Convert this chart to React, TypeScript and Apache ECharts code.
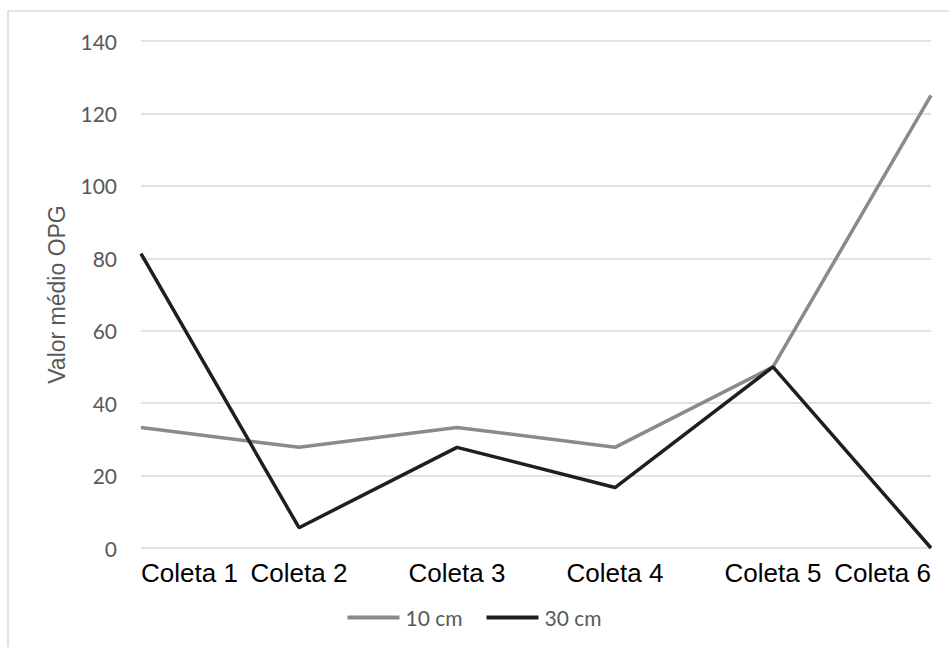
import React, { useEffect, useRef } from "react";
import * as echarts from "echarts";

const categories = ["Coleta 1", "Coleta 2", "Coleta 3", "Coleta 4", "Coleta 5", "Coleta 6"];
const series10cm = [33.3, 27.8, 33.3, 27.8, 50, 125];
const series30cm = [81.3, 5.6, 27.8, 16.7, 50, 0];
const yTicks = { min: 0, max: 140, interval: 20 };

export default function App() {
  const ref = useRef<HTMLDivElement>(null);
  useEffect(() => {
    document.body.style.margin = "0";
    if (!ref.current) return;
    const chart = echarts.init(ref.current, null, { renderer: "svg" });
    chart.setOption({
      animation: false,
      backgroundColor: "#ffffff",
      graphic: [
        {
          type: "rect",
          shape: { x: 8, y: 11, width: 1000, height: 1000 },
          style: { fill: "none", stroke: "#d9d9d9", lineWidth: 1.5 },
          silent: true,
          z: -1,
        },
      ],
      grid: { left: 141, right: 18, top: 41, bottom: 99 },
      legend: {
        data: ["10 cm", "30 cm"],
        left: "center",
        top: 602,
        icon: "rect",
        itemWidth: 52,
        itemHeight: 4,
        itemGap: 24,
        textStyle: { fontFamily: "Lato", fontSize: 21, color: "#595959", padding: [0, 0, 0, 1] },
      },
      xAxis: {
        type: "category",
        data: categories,
        boundaryGap: false,
        axisLine: { show: false },
        axisTick: { show: false },
        axisLabel: {
          fontFamily: "Liberation Sans",
          fontSize: 26,
          color: "#000000",
          margin: 12,
          alignMinLabel: "left",
          alignMaxLabel: "right",
        },
      },
      yAxis: {
        type: "value",
        min: yTicks.min,
        max: yTicks.max,
        interval: yTicks.interval,
        name: "Valor médio OPG",
        nameLocation: "middle",
        nameGap: 73,
        nameTextStyle: { fontFamily: "Liberation Sans", fontSize: 23, color: "#595959" },
        axisLine: { show: false },
        axisTick: { show: false },
        axisLabel: { fontFamily: "Lato", fontSize: 21, color: "#595959", margin: 24 },
        splitLine: { lineStyle: { color: "#d9d9d9", width: 1.5 } },
      },
      series: [
        {
          name: "10 cm",
          type: "line",
          data: series10cm,
          symbol: "none",
          lineStyle: { color: "#8a8a8a", width: 3.5 },
          itemStyle: { color: "#8a8a8a" },
        },
        {
          name: "30 cm",
          type: "line",
          data: series30cm,
          symbol: "none",
          lineStyle: { color: "#1f1f1f", width: 3.5 },
          itemStyle: { color: "#1f1f1f" },
        },
      ],
    });
    return () => chart.dispose();
  }, []);
  return <div ref={ref} style={{ width: 949, height: 647 }} />;
}
